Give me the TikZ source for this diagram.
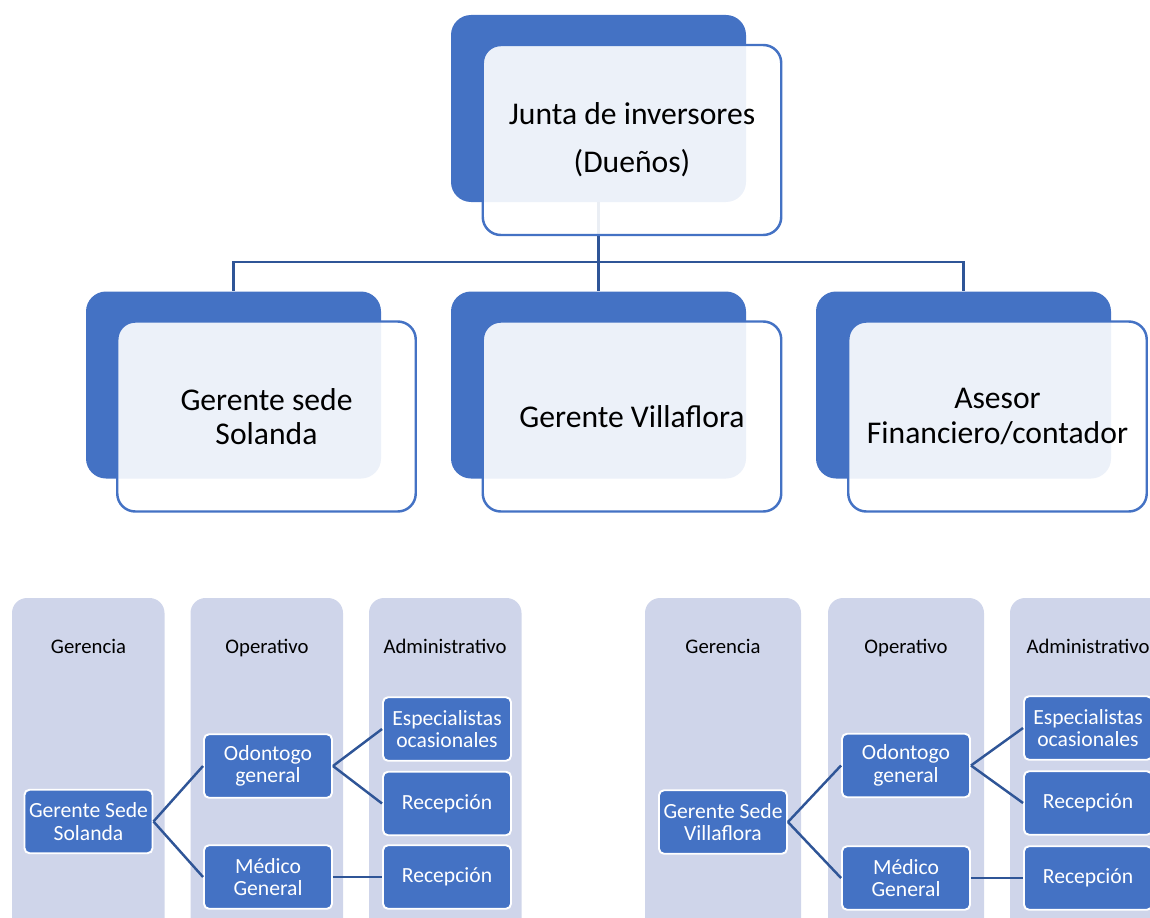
\documentclass[tikz,border=0pt]{standalone}
\usepackage{fontspec}
\setmainfont{Carlito}
\definecolor{azul}{HTML}{4472C4}
\definecolor{linea}{HTML}{2F5597}
\definecolor{lila}{HTML}{CFD5EA}
\tikzset{
  fondo/.style={fill=azul, rounded corners=0.4cm, minimum width=5.9cm,
    minimum height=3.74cm, inner sep=0},
  frente/.style={draw=azul, line width=1.4pt, fill=white, fill opacity=0.9,
    text opacity=1, rounded corners=0.36cm, minimum width=5.97cm,
    minimum height=3.8cm, align=center, font=\fontsize{18}{19.4}\selectfont},
  columna/.style={fill=lila, rounded corners=0.3cm},
  titulo/.style={anchor=base, font=\fontsize{11.8}{12.7}\selectfont},
  cargo/.style={draw=white, line width=1.1pt, fill=azul, rounded corners=0.1cm,
    text=white, minimum width=2.56cm, minimum height=1.27cm, inner sep=0,
    align=center, font=\fontsize{12.3}{12.9}\selectfont},
  enlace/.style={draw=linea, line width=1.4pt},
}
\begin{document}
\begin{tikzpicture}[y=-1cm]
  \useasboundingbox (0,0) rectangle (23,18.36);
  \clip (0,0) rectangle (23,18.36);
  % cajas de fondo
  \node[fondo] (jb) at (11.97,2.17) {};
  \foreach \x/\n in {4.67/sb, 11.97/vb, 19.27/ab}
    \node[fondo] (\n) at (\x,7.70) {};
  % conectores
  \coordinate (bus) at (11.97,5.24);
  \draw[enlace, line width=1.7pt] (jb.south) -- (bus);
  \foreach \n in {sb, vb, ab}
    \draw[enlace, line width=1.7pt] (bus) -| (\n.north);
  % cajas de frente
  \node[frente] (junta) at (12.64,2.80) {Junta de inversores\\[7.9pt](Dueños)};
  \node[frente] (solanda) at (5.33,8.33) {Gerente sede\\Solanda};
  \node[frente] (villaflora) at (12.64,8.33) {Gerente Villaflora};
  \node[frente] (asesor) at (19.95,8.33) {Asesor\\Financiero/contador};

  % sede Solanda
  \foreach \x in {0.24, 3.81, 7.38}
    \fill[columna] (\x,11.96) rectangle ++(3.05,7.5);
  \node[titulo] (ger1) at (1.77,13.06) {Gerencia};
  \node[titulo] (ope1) at (5.34,13.06) {Operativo};
  \node[titulo] (adm1) at (8.9,13.06) {Administrativo};
  \node[cargo] (gs1) at (1.77,16.43) {Gerente Sede\\Solanda};
  \node[cargo] (od1) at (5.36,15.32) {Odontogo\\general};
  \node[cargo] (me1) at (5.36,17.54) {Médico\\General};
  \node[cargo] (es1) at (8.94,14.58) {Especialistas\\ocasionales};
  \node[cargo] (ra1) at (8.94,16.07) {Recepción};
  \node[cargo] (rb1) at (8.94,17.54) {Recepción};
  \draw[enlace] (gs1.east) -- (od1.west);
  \draw[enlace] (gs1.east) -- (me1.west);
  \draw[enlace] (od1.east) -- (es1.west);
  \draw[enlace] (od1.east) -- (ra1.west);
  \draw[enlace] (me1.east) -- (rb1.west);

  % sede Villaflora
  \foreach \x in {12.9, 16.56, 20.2}
    \fill[columna] (\x,11.96) rectangle ++(3.12,7.5);
  \node[titulo] (ger2) at (14.46,13.06) {Gerencia};
  \node[titulo] (ope2) at (18.12,13.06) {Operativo};
  \node[titulo] (adm2) at (21.76,13.06) {Administrativo};
  \begin{scope}[every node/.append style={minimum width=2.6cm, minimum height=1.28cm}]
    \node[cargo] (gs2) at (14.46,16.44) {Gerente Sede\\Villaflora};
    \node[cargo] (od2) at (18.12,15.31) {Odontogo\\general};
    \node[cargo] (me2) at (18.12,17.56) {Médico\\General};
    \node[cargo] (es2) at (21.76,14.56) {Especialistas\\ocasionales};
    \node[cargo] (ra2) at (21.76,16.06) {Recepción};
    \node[cargo] (rb2) at (21.76,17.56) {Recepción};
  \end{scope}
  \draw[enlace] (gs2.east) -- (od2.west);
  \draw[enlace] (gs2.east) -- (me2.west);
  \draw[enlace] (od2.east) -- (es2.west);
  \draw[enlace] (od2.east) -- (ra2.west);
  \draw[enlace] (me2.east) -- (rb2.west);
\end{tikzpicture}
\end{document}
